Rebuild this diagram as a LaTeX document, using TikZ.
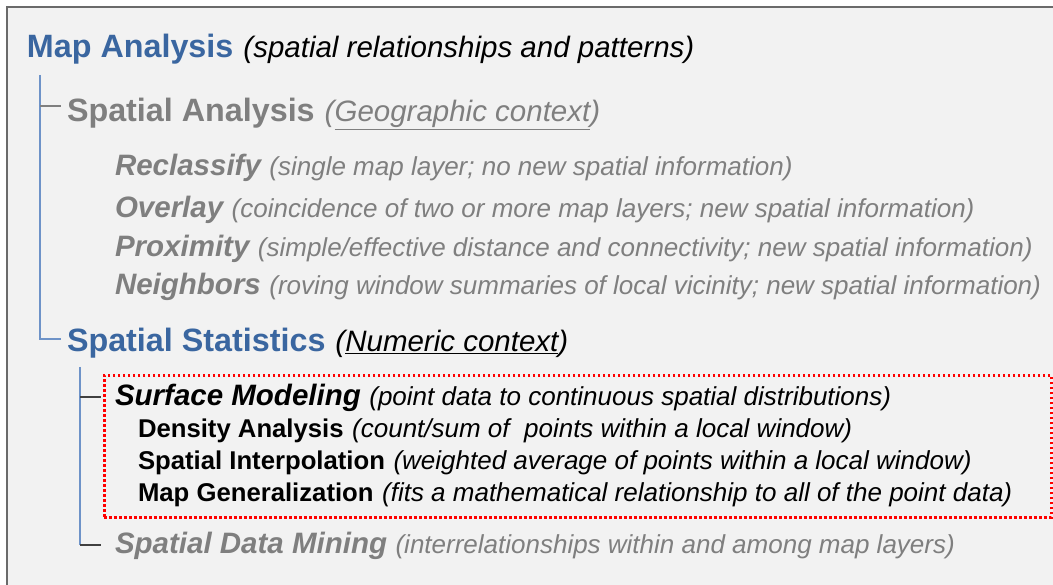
\documentclass[tikz,border=0pt]{standalone}
\usepackage{fontspec}
\setmainfont{Liberation Sans}
\definecolor{bgfill}{HTML}{F2F2F2}
\definecolor{framegray}{HTML}{6A6A6A}
\definecolor{titleblue}{HTML}{3A66A0}
\definecolor{txtgray}{HTML}{7F7F7F}
\definecolor{lineblue}{HTML}{6E93C8}
\definecolor{dotred}{HTML}{FF0000}
\newcommand\fsTitle{\fontsize{32.3}{36}\selectfont}
\newcommand\fsParen{\fontsize{29.5}{33}\selectfont}
\newcommand\fsSub{\fontsize{29.5}{33}\selectfont}
\newcommand\fsItem{\fontsize{25.7}{29}\selectfont}
\newcommand\fsDesc{\fontsize{26}{29}\selectfont}
\newcommand\tgap{\hspace{10pt}}
\newcommand\sgap{\hspace{8.5pt}}
\begin{document}
\begin{tikzpicture}[x=1pt,y=-1pt,
  lbl/.style={anchor=base west, inner sep=0pt, outer sep=0pt},
  treeline/.style={line width=1.8pt, lineblue},
  tickgray/.style={line width=1.8pt, txtgray},
  tickdark/.style={line width=1.8pt, black!75},
  redbox/.style={draw=dotred, line width=2.6pt, dash pattern=on 2.4pt off 2.6pt}]
\useasboundingbox (0,0) rectangle (1053,585);
\fill[white] (0,0) rectangle (1053,585);
\fill[bgfill] (7,7) rectangle (1053,585);
\draw[framegray, line width=2pt] (7,585) -- (7,7) -- (1053,7);

% text lines
\node[lbl] (ma) at (27,58) {\fsTitle\bfseries\color{titleblue}Map Analysis\tgap{\fsParen\mdseries\itshape\color{black}(spatial relationships and patterns)}};
\node[lbl] (sa) at (67,122) {\fsTitle\bfseries\color{txtgray}Spatial Analysis\tgap{\fsParen\mdseries\itshape(\underline{Geographic context})}};
\node[lbl] (rc) at (115,176) {\color{txtgray}{\fsSub\bfseries\itshape Reclassify}\sgap{\fsDesc\itshape(single map layer; no new spatial information)}};
\node[lbl] (ov) at (115,218) {\color{txtgray}{\fsSub\bfseries\itshape Overlay}\sgap{\fsDesc\itshape(coincidence of two or more map layers; new spatial information)}};
\node[lbl] (px) at (115,257) {\color{txtgray}{\fsSub\bfseries\itshape Proximity}\sgap{\fsDesc\itshape(simple/effective distance and connectivity; new spatial information)}};
\node[lbl] (nb) at (115,295) {\color{txtgray}{\fsSub\bfseries\itshape Neighbors}\sgap{\fsDesc\itshape(roving window summaries of local vicinity; new spatial information)}};
\node[lbl] (ss) at (67,352) {\fsTitle\bfseries\color{titleblue}Spatial Statistics\tgap{\fsParen\mdseries\itshape\color{black}(\underline{Numeric context})}};
\node[lbl] (sm) at (115,406) {{\fsSub\bfseries\itshape Surface Modeling}\sgap{\fsDesc\itshape(point data to continuous spatial distributions)}};
\node[lbl] (da) at (138,438) {{\fsItem\bfseries Density Analysis}\sgap{\fsDesc\itshape(count/sum of\ \ points within a local window)}};
\node[lbl] (si) at (138,469) {{\fsItem\bfseries Spatial Interpolation}\sgap{\fsDesc\itshape(weighted average of points within a local window)}};
\node[lbl] (mg) at (138,501) {{\fsItem\bfseries Map Generalization}\sgap{\fsDesc\itshape(fits a mathematical relationship to all of the point data)}};
\node[lbl] (dm) at (115,553) {\color{txtgray}{\fsSub\bfseries\itshape Spatial Data Mining}\sgap{\fsDesc\itshape(interrelationships within and among map layers)}};

% dotted box
\node[redbox, inner sep=0pt, minimum width=947pt, minimum height=142pt, anchor=north west] (box) at (103,374) {};

% tree 1
\coordinate (t1top) at (40,75);
\coordinate (t1sa) at (40,106);
\coordinate (t1saend) at (61,106);
\coordinate (t1bot) at (40,339);
\coordinate (t1ssend) at (61,339);
\draw[treeline] (t1top) -- (t1bot) -- (t1ssend);
\draw[tickgray] (t1sa) -- (t1saend);

% tree 2
\coordinate (t2top) at (80,367);
\coordinate (t2sm) at (80,397);
\coordinate (t2smend) at (101,397);
\coordinate (t2bot) at (80,545);
\coordinate (t2dmend) at (101,545);
\draw[treeline] (t2top) -- (t2bot);
\draw[tickdark] (t2bot) -- (t2dmend);
\draw[tickdark] (t2sm) -- (t2smend);
\end{tikzpicture}
\end{document}
